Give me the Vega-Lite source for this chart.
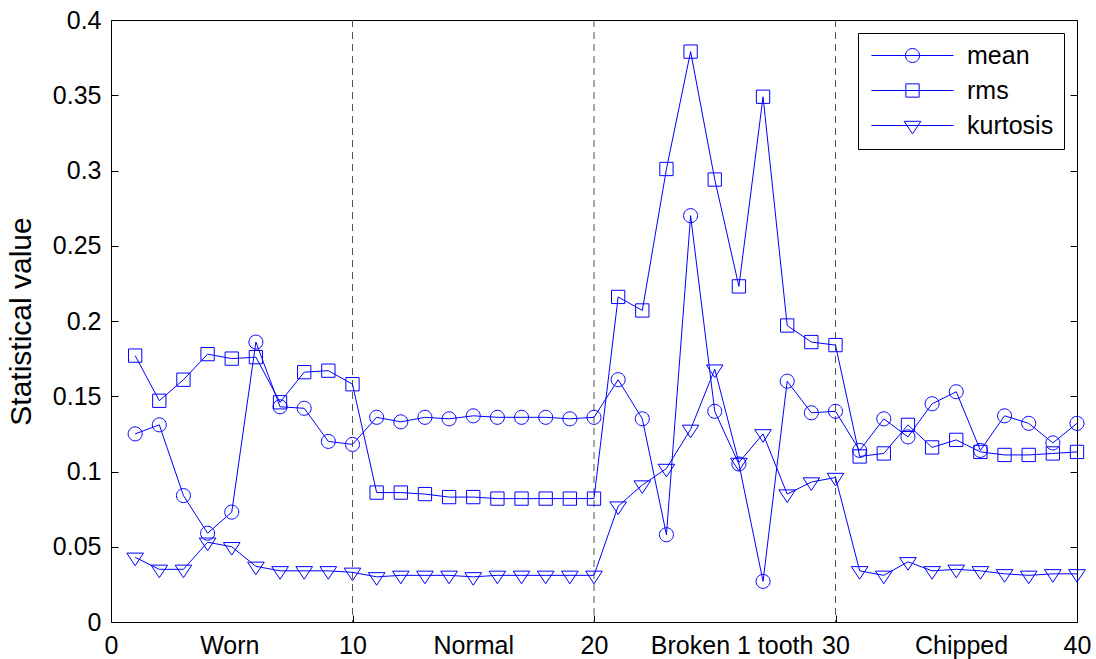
{
  "$schema": "https://vega.github.io/schema/vega-lite/v6.json",
  "width": 966,
  "height": 602,
  "autosize": {"type": "none"},
  "padding": {"left": 111, "top": 20, "right": 19, "bottom": 37},
  "background": "white",
  "config": {
    "view": {"stroke": "black", "strokeWidth": 1},
    "font": "Liberation Sans",
    "axis": {
      "labelFont": "Liberation Sans",
      "labelFontSize": 25,
      "labelColor": "black",
      "titleFont": "Liberation Sans",
      "titleFontSize": 30,
      "titleFontWeight": "normal",
      "titleColor": "black",
      "domain": false,
      "grid": false,
      "tickColor": "black",
      "tickWidth": 1
    }
  },
  "datasets": {
    "stats": [
      {"x": 1, "mean": 0.125, "rms": 0.177, "kurtosis": 0.043},
      {"x": 2, "mean": 0.131, "rms": 0.147, "kurtosis": 0.035},
      {"x": 3, "mean": 0.084, "rms": 0.161, "kurtosis": 0.035},
      {"x": 4, "mean": 0.059, "rms": 0.178, "kurtosis": 0.053},
      {"x": 5, "mean": 0.073, "rms": 0.175, "kurtosis": 0.050},
      {"x": 6, "mean": 0.186, "rms": 0.176, "kurtosis": 0.037},
      {"x": 7, "mean": 0.143, "rms": 0.146, "kurtosis": 0.034},
      {"x": 8, "mean": 0.142, "rms": 0.166, "kurtosis": 0.034},
      {"x": 9, "mean": 0.120, "rms": 0.167, "kurtosis": 0.034},
      {"x": 10, "mean": 0.118, "rms": 0.158, "kurtosis": 0.033},
      {"x": 11, "mean": 0.136, "rms": 0.086, "kurtosis": 0.030},
      {"x": 12, "mean": 0.133, "rms": 0.086, "kurtosis": 0.031},
      {"x": 13, "mean": 0.136, "rms": 0.085, "kurtosis": 0.031},
      {"x": 14, "mean": 0.135, "rms": 0.083, "kurtosis": 0.031},
      {"x": 15, "mean": 0.137, "rms": 0.083, "kurtosis": 0.030},
      {"x": 16, "mean": 0.136, "rms": 0.082, "kurtosis": 0.031},
      {"x": 17, "mean": 0.136, "rms": 0.082, "kurtosis": 0.031},
      {"x": 18, "mean": 0.136, "rms": 0.082, "kurtosis": 0.031},
      {"x": 19, "mean": 0.135, "rms": 0.082, "kurtosis": 0.031},
      {"x": 20, "mean": 0.136, "rms": 0.082, "kurtosis": 0.031},
      {"x": 21, "mean": 0.161, "rms": 0.216, "kurtosis": 0.077},
      {"x": 22, "mean": 0.135, "rms": 0.207, "kurtosis": 0.091},
      {"x": 23, "mean": 0.058, "rms": 0.301, "kurtosis": 0.102},
      {"x": 24, "mean": 0.270, "rms": 0.379, "kurtosis": 0.128},
      {"x": 25, "mean": 0.140, "rms": 0.294, "kurtosis": 0.168},
      {"x": 26, "mean": 0.105, "rms": 0.223, "kurtosis": 0.106},
      {"x": 27, "mean": 0.027, "rms": 0.349, "kurtosis": 0.125},
      {"x": 28, "mean": 0.160, "rms": 0.197, "kurtosis": 0.085},
      {"x": 29, "mean": 0.139, "rms": 0.186, "kurtosis": 0.093},
      {"x": 30, "mean": 0.140, "rms": 0.184, "kurtosis": 0.096},
      {"x": 31, "mean": 0.114, "rms": 0.110, "kurtosis": 0.034},
      {"x": 32, "mean": 0.135, "rms": 0.112, "kurtosis": 0.031},
      {"x": 33, "mean": 0.123, "rms": 0.131, "kurtosis": 0.040},
      {"x": 34, "mean": 0.145, "rms": 0.116, "kurtosis": 0.034},
      {"x": 35, "mean": 0.153, "rms": 0.121, "kurtosis": 0.035},
      {"x": 36, "mean": 0.114, "rms": 0.113, "kurtosis": 0.034},
      {"x": 37, "mean": 0.137, "rms": 0.111, "kurtosis": 0.032},
      {"x": 38, "mean": 0.132, "rms": 0.111, "kurtosis": 0.031},
      {"x": 39, "mean": 0.119, "rms": 0.112, "kurtosis": 0.032},
      {"x": 40, "mean": 0.132, "rms": 0.113, "kurtosis": 0.032}
    ],
    "dividers": [{"x": 10}, {"x": 20}, {"x": 30}]
  },
  "resolve": {
    "axis": {"x": "independent", "y": "independent"},
    "scale": {"shape": "independent"},
    "legend": {"shape": "independent"}
  },
  "layer": [
    {
      "data": {"name": "dividers"},
      "mark": {"type": "rule", "color": "#555555", "strokeWidth": 1, "strokeDash": [7, 5]},
      "encoding": {
        "x": {"field": "x", "type": "quantitative", "scale": {"domain": [0, 40], "nice": false, "zero": false}, "axis": null}
      }
    },
    {
      "data": {"name": "stats"},
      "transform": [{"fold": ["mean", "rms", "kurtosis"], "as": ["series", "value"]}],
      "mark": {"type": "line", "color": "#0000ff", "strokeWidth": 1},
      "encoding": {
        "x": {"field": "x", "type": "quantitative", "axis": null},
        "y": {
          "field": "value", "type": "quantitative",
          "scale": {"domain": [0, 0.4], "nice": false},
          "axis": {"orient": "right", "labels": false, "title": null, "tickSize": -7,
                   "values": [0, 0.05, 0.1, 0.15, 0.2, 0.25, 0.3, 0.35, 0.4]}
        },
        "detail": {"field": "series", "type": "nominal"}
      }
    },
    {
      "data": {"name": "stats"},
      "transform": [{"fold": ["mean", "rms", "kurtosis"], "as": ["series", "value"]}],
      "mark": {"type": "point", "filled": false, "color": "#0000ff", "strokeWidth": 1, "size": 196, "opacity": 1},
      "encoding": {
        "x": {
          "field": "x", "type": "quantitative",
          "axis": {
            "title": null,
            "values": [0, 4.9, 10, 15, 20, 25.7, 30, 35.2, 40],
            "labelExpr": "datum.value == 4.9 ? 'Worn' : datum.value == 15 ? 'Normal' : datum.value == 25.7 ? 'Broken 1 tooth' : datum.value == 35.2 ? 'Chipped' : datum.label",
            "labelFlush": false,
            "labelOverlap": false,
            "tickSize": -7,
            "labelPadding": 18,
            "tickOpacity": {"condition": {"test": "datum.value % 10 !== 0", "value": 0}, "value": 1}
          }
        },
        "y": {
          "field": "value", "type": "quantitative",
          "axis": {
            "title": "Statistical value",
            "values": [0, 0.05, 0.1, 0.15, 0.2, 0.25, 0.3, 0.35, 0.4],
            "format": ".2~f",
            "tickSize": -7,
            "labelPadding": 17,
            "titlePadding": 16
          }
        },
        "shape": {
          "field": "series", "type": "nominal",
          "scale": {
            "domain": ["mean", "rms", "kurtosis"],
            "range": [
              "M1,0A1,1,0,1,1,-1,0A1,1,0,1,1,1,0Z",
              "M-0.95,-0.95H0.95V0.95H-0.95Z",
              "M-1.19,-0.6L1.19,-0.6L0,1.2Z"
            ]
          },
          "legend": null
        }
      }
    },
    {
      "data": {"values": []},
      "mark": {"type": "point", "filled": false, "color": "#0000ff", "strokeWidth": 1, "size": 196, "opacity": 1},
      "encoding": {
        "shape": {
          "field": "series", "type": "nominal",
          "scale": {
            "domain": ["mean", "rms", "kurtosis"],
            "range": [
              "M-5.86,0H5.86M1,0A1,1,0,1,1,-1,0A1,1,0,1,1,1,0Z",
              "M-5.86,0H5.86M-0.95,-0.95H0.95V0.95H-0.95Z",
              "M-5.86,0H5.86M-1.19,-0.6L1.19,-0.6L0,1.2Z"
            ]
          },
          "legend": {
            "title": null,
            "orient": "none",
            "legendX": 747,
            "legendY": 13,
            "padding": 10,
            "strokeColor": "black",
            "fillColor": "white",
            "cornerRadius": 0,
            "labelFont": "Liberation Sans",
            "labelFontSize": 25,
            "labelColor": "black",
            "symbolSize": 196,
            "symbolStrokeWidth": 1,
            "symbolOpacity": 1,
            "symbolStrokeColor": "#0000ff",
            "symbolFillColor": "transparent",
            "symbolOffset": 32,
            "labelOffset": 42,
            "rowPadding": 9
          }
        }
      }
    }
  ]
}
